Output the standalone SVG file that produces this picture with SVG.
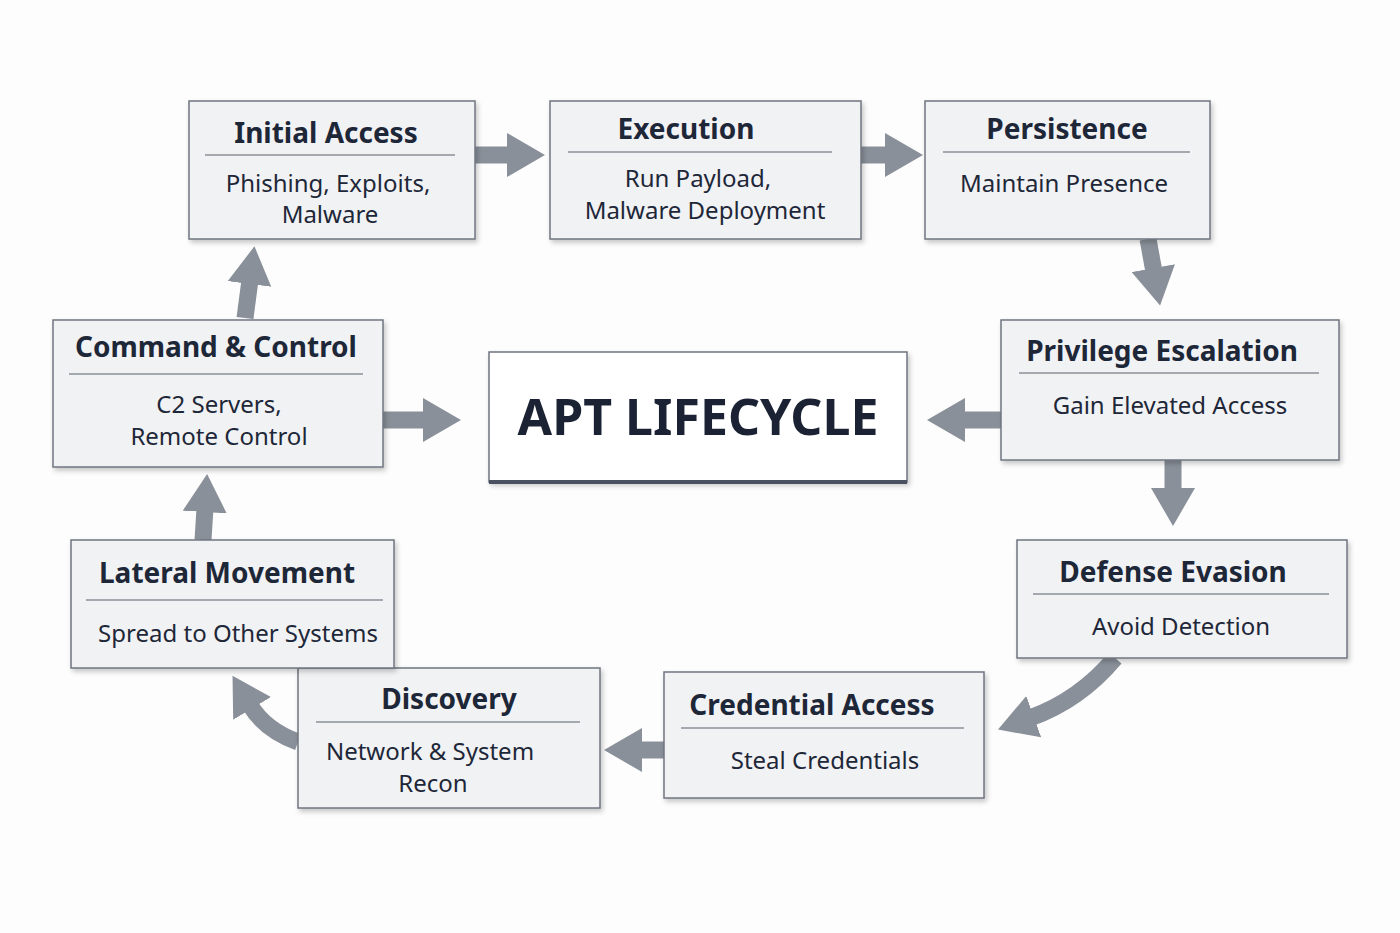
<svg xmlns="http://www.w3.org/2000/svg" width="1400" height="933" viewBox="0 0 1400 933">
<defs>
<marker id="ah" markerUnits="userSpaceOnUse" markerWidth="40" markerHeight="44" refX="4" refY="22" orient="auto"><polygon points="0,0 38,22 0,44" fill="#8a9099"/></marker>
<filter id="sh" x="-5%" y="-5%" width="115%" height="120%"><feDropShadow dx="2" dy="3" stdDeviation="2.5" flood-color="#000" flood-opacity="0.22"/></filter>
</defs>
<style>
.box{fill:#f1f2f4;stroke:#6f7580;stroke-width:1.5;filter:url(#sh)}
.t{font-family:"Noto Sans",sans-serif;font-weight:bold;font-size:28px;fill:#1e2738;text-anchor:middle}
.b{font-family:"Noto Sans",sans-serif;font-size:24px;fill:#1e2738;text-anchor:middle}
.sep{stroke:#8a9099;stroke-width:1.5}
.c{stroke:#8a9099;stroke-width:17;fill:none;marker-end:url(#ah)}
</style>
<rect width="1400" height="933" fill="#fdfdfd"/>
<g id="connectors">
<line class="c" x1="475" y1="155" x2="511" y2="155"/>
<line class="c" x1="861" y1="155" x2="889" y2="155"/>
<line class="c" x1="1148" y1="239" x2="1154" y2="272"/>
<line class="c" x1="1001" y1="420" x2="961" y2="420"/>
<line class="c" x1="1173" y1="460" x2="1173" y2="492"/>
<path class="c" d="M1115,658 Q1080,700 1030,718"/>
<line class="c" x1="664" y1="750" x2="638" y2="750"/>
<path class="c" d="M298,742 Q265,730 250,705"/>
<line class="c" x1="203" y1="540" x2="205" y2="508"/>
<line class="c" x1="245" y1="318" x2="250" y2="280"/>
<line class="c" x1="383" y1="420" x2="427" y2="420"/>
</g>
<g id="center"><rect x="489" y="352" width="418" height="130" fill="#fff" stroke="#6f7580" stroke-width="1.5" filter="url(#sh)"/><line x1="489" y1="482" x2="907" y2="482" stroke="#4a5160" stroke-width="4"/><text x="698" y="435" font-family="Noto Sans,sans-serif" font-weight="bold" font-size="50" fill="#1a2233" text-anchor="middle">APT LIFECYCLE</text></g>
<g id="initial"><rect class="box" x="189" y="101" width="286" height="138"/><text class="t" x="326" y="143">Initial Access</text><line class="sep" x1="205" y1="155" x2="455" y2="155"/><text class="b" x="328" y="192">Phishing, Exploits,</text><text class="b" x="330" y="223">Malware</text></g>
<g id="execution"><rect class="box" x="550" y="101" width="311" height="138"/><text class="t" x="686" y="139">Execution</text><line class="sep" x1="568" y1="152" x2="832" y2="152"/><text class="b" x="698" y="187">Run Payload,</text><text class="b" x="705" y="219">Malware Deployment</text></g>
<g id="persistence"><rect class="box" x="925" y="101" width="285" height="138"/><text class="t" x="1067" y="139">Persistence</text><line class="sep" x1="943" y1="152" x2="1190" y2="152"/><text class="b" x="1064" y="192">Maintain Presence</text></g>
<g id="privesc"><rect class="box" x="1001" y="320" width="338" height="140"/><text class="t" x="1162" y="361">Privilege Escalation</text><line class="sep" x1="1019" y1="373" x2="1319" y2="373"/><text class="b" x="1170" y="414">Gain Elevated Access</text></g>
<g id="evasion"><rect class="box" x="1017" y="540" width="330" height="118"/><text class="t" x="1173" y="582">Defense Evasion</text><line class="sep" x1="1033" y1="594" x2="1329" y2="594"/><text class="b" x="1181" y="635">Avoid Detection</text></g>
<g id="credential"><rect class="box" x="664" y="672" width="320" height="126"/><text class="t" x="812" y="715">Credential Access</text><line class="sep" x1="681" y1="728" x2="964" y2="728"/><text class="b" x="825" y="769">Steal Credentials</text></g>
<g id="discovery"><rect class="box" x="298" y="668" width="302" height="140"/><text class="t" x="449" y="709">Discovery</text><line class="sep" x1="316" y1="722" x2="580" y2="722"/><text class="b" x="430" y="760">Network &amp; System</text><text class="b" x="433" y="792">Recon</text></g>
<g id="lateral"><rect class="box" x="71" y="540" width="323" height="128"/><text class="t" x="227" y="583">Lateral Movement</text><line class="sep" x1="86" y1="600" x2="383" y2="600"/><text class="b" x="238" y="642">Spread to Other Systems</text></g>
<g id="c2"><rect class="box" x="53" y="320" width="330" height="147"/><text class="t" x="216" y="357">Command &amp; Control</text><line class="sep" x1="69" y1="374" x2="363" y2="374"/><text class="b" x="219" y="413">C2 Servers,</text><text class="b" x="219" y="445">Remote Control</text></g>
</svg>
